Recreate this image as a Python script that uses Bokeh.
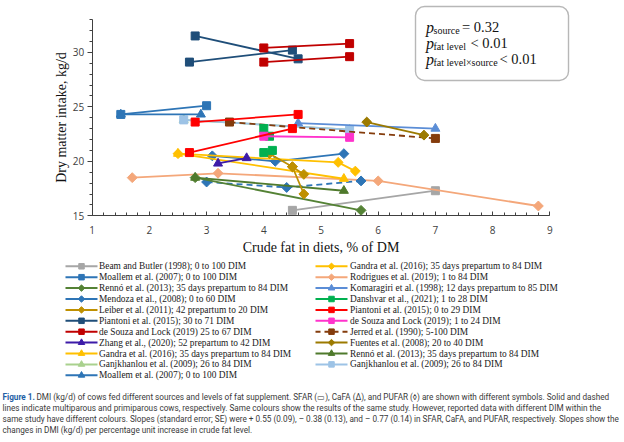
import math
from bokeh.plotting import figure
from bokeh.models import Range1d, SingleIntervalTicker, BoxAnnotation
from bokeh.core.properties import value
from bokeh.embed import file_html
from bokeh.resources import INLINE

# ---------------- data: crude fat (% of DM) vs DMI (kg/d) ----------------
beam_x = [4.5, 7.0];                 beam_y = [15.5, 17.3]
moallem_sq_x = [1.5, 3.0];           moallem_sq_y = [24.3, 25.1]
moallem_tri_x = [1.5, 2.9];          moallem_tri_y = [24.3, 24.3]
renno_dia_x = [2.8, 5.7];            renno_dia_y = [18.5, 15.5]
renno_tri_x = [2.8, 5.4];            renno_tri_y = [18.5, 17.3]
mendoza_x = [3.1, 4.2, 5.4];         mendoza_y = [20.5, 20.0, 20.7]
mendoza_prim_x = [3.0, 4.4, 5.7];    mendoza_prim_y = [18.1, 17.6, 18.2]
leiber_a_x = [4.1, 4.5, 4.7];        leiber_a_y = [20.7, 19.5, 18.8]
leiber_b_x = [4.5, 4.7];             leiber_b_y = [19.5, 17.0]
piantoni71_a_x = [2.8, 4.6];         piantoni71_a_y = [31.5, 29.4]
piantoni71_b_x = [2.7, 4.5];         piantoni71_b_y = [29.1, 30.2]
desouza67_a_x = [4.0, 5.5];          desouza67_a_y = [30.4, 30.8]
desouza67_b_x = [4.0, 5.5];          desouza67_b_y = [29.1, 29.6]
zhang_x = [3.2, 3.7];                zhang_y = [19.8, 20.3]
gandra_tri_x = [2.5, 5.4];           gandra_tri_y = [20.7, 18.4]
gandra_dia_x = [2.5, 5.3, 5.6];      gandra_dia_y = [20.7, 19.9, 19.1]
ganj_tri_x = [2.6, 5.5];             ganj_tri_y = [23.8, 22.9]
ganj_sq_x = [2.6, 5.5];              ganj_sq_y = [23.8, 22.9]
rodrigues_x = [1.7, 3.2, 6.0, 8.8];  rodrigues_y = [18.5, 18.9, 18.2, 15.9]
komaragiri_x = [4.6, 7.0];           komaragiri_y = [23.5, 23.0]
danshvar_a_x = [4.0, 4.1];           danshvar_a_y = [23.0, 22.3]
danshvar_b_x = [4.0, 4.15];          danshvar_b_y = [20.8, 21.0]
piantoni29_a_x = [2.8, 4.6];         piantoni29_a_y = [23.6, 24.3]
piantoni29_b_x = [2.7, 4.5];         piantoni29_b_y = [20.8, 23.0]
desouza24_x = [4.0, 5.5];            desouza24_y = [22.3, 22.2]
jerred_x = [3.4, 7.0];               jerred_y = [23.6, 22.1]
fuentes_x = [5.8, 6.8];              fuentes_y = [23.6, 22.4]

x_axis_title = "Crude fat in diets, % of DM"
y_axis_title = "Dry matter intake, kg/d"

# ---------------- colours ----------------
C = dict(
    beam="#A6A6A6", moallem="#2E75B6", renno_dia="#548235", renno_tri="#4F7A2C",
    mendoza="#2E75B6", leiber="#BF9000", piantoni71="#1F4E79", desouza67="#C00000",
    zhang="#3D1BA8", gandra="#FFC000", ganj_tri="#A9D18E", rodrigues="#F4A77A",
    komaragiri="#5B8DD6", danshvar="#00B050", piantoni29="#FF0000", desouza24="#FF33CC",
    jerred="#843C0C", fuentes="#9C7A00", ganj_sq="#9DC3E6",
)

series = [
    (beam_x, beam_y, "beam", "square", "solid"),
    (rodrigues_x, rodrigues_y, "rodrigues", "diamond", "solid"),
    (ganj_tri_x, ganj_tri_y, "ganj_tri", "triangle", "solid"),
    (ganj_sq_x, ganj_sq_y, "ganj_sq", "square", "solid"),
    (komaragiri_x, komaragiri_y, "komaragiri", "triangle", "solid"),
    (jerred_x, jerred_y, "jerred", "square", "dashed"),
    (fuentes_x, fuentes_y, "fuentes", "diamond", "solid"),
    (mendoza_x, mendoza_y, "mendoza", "diamond", "solid"),
    (mendoza_prim_x, mendoza_prim_y, "mendoza", "diamond", "dashed"),
    (renno_dia_x, renno_dia_y, "renno_dia", "diamond", "solid"),
    (renno_tri_x, renno_tri_y, "renno_tri", "triangle", "solid"),
    (gandra_dia_x, gandra_dia_y, "gandra", "diamond", "solid"),
    (gandra_tri_x, gandra_tri_y, "gandra", "triangle", "solid"),
    (leiber_a_x, leiber_a_y, "leiber", "diamond", "solid"),
    (leiber_b_x, leiber_b_y, "leiber", "diamond", "solid"),
    (zhang_x, zhang_y, "zhang", "triangle", "solid"),
    (danshvar_a_x, danshvar_a_y, "danshvar", "square", "solid"),
    (danshvar_b_x, danshvar_b_y, "danshvar", "square", "solid"),
    (desouza24_x, desouza24_y, "desouza24", "square", "solid"),
    (piantoni29_a_x, piantoni29_a_y, "piantoni29", "square", "solid"),
    (piantoni29_b_x, piantoni29_b_y, "piantoni29", "square", "solid"),
    (moallem_tri_x, moallem_tri_y, "moallem", "triangle", "solid"),
    (moallem_sq_x, moallem_sq_y, "moallem", "square", "solid"),
    (piantoni71_a_x, piantoni71_a_y, "piantoni71", "square", "solid"),
    (piantoni71_b_x, piantoni71_b_y, "piantoni71", "square", "solid"),
    (desouza67_a_x, desouza67_a_y, "desouza67", "square", "solid"),
    (desouza67_b_x, desouza67_b_y, "desouza67", "square", "solid"),
]

legend_left = [
    ("Beam and Butler (1998); 0 to 100 DIM", "beam", "square", "solid"),
    ("Moallem et al. (2007); 0 to 100 DIM", "moallem", "square", "solid"),
    ("Rennó et al. (2013); 35 days prepartum to 84 DIM", "renno_dia", "diamond", "solid"),
    ("Mendoza et al., (2008); 0 to 60 DIM", "mendoza", "diamond", "solid"),
    ("Leiber et al. (2011); 42 prepartum to 20 DIM", "leiber", "diamond", "solid"),
    ("Piantoni et al. (2015); 30 to 71 DIM", "piantoni71", "square", "solid"),
    ("de Souza and Lock (2019) 25 to 67 DIM", "desouza67", "square", "solid"),
    ("Zhang et al., (2020); 52 prepartum to 42 DIM", "zhang", "triangle", "solid"),
    ("Gandra et al. (2016); 35 days prepartum to 84 DIM", "gandra", "triangle", "solid"),
    ("Ganjkhanlou et al. (2009); 26 to 84 DIM", "ganj_tri", "triangle", "solid"),
    ("Moallem et al. (2007); 0 to 100 DIM", "moallem", "triangle", "solid"),
]
legend_right = [
    ("Gandra et al. (2016); 35 days prepartum to 84 DIM", "gandra", "diamond", "solid"),
    ("Rodrigues et al. (2019); 1 to 84 DIM", "rodrigues", "diamond", "solid"),
    ("Komaragiri et al. (1998); 12 days prepartum to 85 DIM", "komaragiri", "triangle", "solid"),
    ("Danshvar et al., (2021); 1 to 28 DIM", "danshvar", "square", "solid"),
    ("Piantoni et al. (2015); 0 to 29 DIM", "piantoni29", "square", "solid"),
    ("de Souza and Lock (2019); 1 to 24 DIM", "desouza24", "square", "solid"),
    ("Jerred et al. (1990); 5-100 DIM", "jerred", "square", "dashed"),
    ("Fuentes et al. (2008); 20 to 40 DIM", "fuentes", "diamond", "solid"),
    ("Rennó et al. (2013); 35 days prepartum to 84 DIM", "renno_tri", "triangle", "solid"),
    ("Ganjkhanlou et al. (2009); 26 to 84 DIM", "ganj_sq", "square", "solid"),
]

caption_lines = [
    "DMI (kg/d) of cows fed different sources and levels of fat supplement. SFAR (\u25AD), CaFA (\u0394), and PUFAR (\u25CA) are shown with different symbols. Solid and dashed",
    "lines indicate multiparous and primiparous cows, respectively. Same colours show the results of the same study. However, reported data with different DIM within the",
    "same study have different colours. Slopes (standard error; SE) were + 0.55 (0.09), \u2013 0.38 (0.13), and \u2013 0.77 (0.14) in SFAR, CaFA, and PUFAR, respectively. Slopes show the",
    "changes in DMI (kg/d) per percentage unit increase in crude fat level.",
]

# ---------------- layout constants (pixels in the 624x442 canvas) ----------------
W, H = 624, 442
X0_PX, PX_PER_X = 91.7, 57.2     # pixel of x = 1, pixels per unit
Y0_PX, PX_PER_Y = 215.3, 10.9    # pixel of y = 15, pixels per unit

SERIF = "Liberation Serif"
SANS = "Open Sans"

p = figure(width=W, height=H,
           x_range=Range1d(1 - X0_PX / PX_PER_X, 1 + (W - X0_PX) / PX_PER_X),
           y_range=Range1d(15 - (H - Y0_PX) / PX_PER_Y, 15 + Y0_PX / PX_PER_Y),
           output_backend="svg", toolbar_location=None, title=None, min_border=0)
p.extra_x_ranges["px"] = Range1d(0, W)
p.extra_y_ranges["px"] = Range1d(H, 0)
p.grid.visible = False
p.outline_line_color = None

# axes drawn at fixed data positions inside the full-canvas frame
p.xaxis.fixed_location = 15
p.yaxis.fixed_location = 1
p.xaxis.bounds = (1, 9)
p.yaxis.bounds = (15, 33)
p.xaxis.ticker = SingleIntervalTicker(interval=1, num_minor_ticks=5)
p.yaxis.ticker = SingleIntervalTicker(interval=5, num_minor_ticks=5)
for ax in (p.xaxis[0], p.yaxis[0]):
    ax.axis_line_color = "#404040"
    ax.major_tick_line_color = "#404040"
    ax.minor_tick_line_color = "#404040"
    ax.major_label_text_font = SANS
    ax.major_label_text_font_size = "10px"
    ax.major_label_text_color = "#404040"
    ax.axis_label_text_font = SERIF
    ax.axis_label_text_font_style = "normal"
    ax.axis_label_text_font_size = "14px"
    ax.axis_label_text_color = "#111111"
p.xaxis.major_tick_in = 4
p.xaxis.major_tick_out = 0
p.xaxis.minor_tick_in = 3
p.xaxis.minor_tick_out = 0
p.xaxis.major_label_standoff = 10
p.xaxis.axis_label = x_axis_title
p.xaxis.axis_label_standoff = 3
p.yaxis.major_tick_in = 0
p.yaxis.major_tick_out = 5
p.yaxis.minor_tick_in = 0
p.yaxis.minor_tick_out = 3
p.yaxis.major_label_standoff = 3
p.yaxis.axis_label = y_axis_title
p.yaxis.axis_label_standoff = 1

MSIZE = {"square": 8, "triangle": 9, "diamond": 7}
MANGLE = {"square": 0, "triangle": 0, "diamond": math.pi / 4}
MSHAPE = {"square": "square", "triangle": "triangle", "diamond": "square"}

for xs, ys, key, mk, dash in series:
    p.line(xs, ys, line_color=C[key], line_width=1.8,
           line_dash="6 4" if dash == "dashed" else "solid")
    p.scatter(xs, ys, marker=MSHAPE[mk], size=MSIZE[mk], angle=MANGLE[mk],
              fill_color=C[key], line_color=C[key], line_width=1)

# ---------------- statistics box ----------------
def dx(px): return 1 + (px - X0_PX) / PX_PER_X
def dy(py): return 15 + (Y0_PX - py) / PX_PER_Y

box = BoxAnnotation(left=dx(415), right=dx(568), top=dy(6), bottom=dy(80),
                    fill_color="white", fill_alpha=1.0, line_color="#111111",
                    line_width=1.4, border_radius=9, level="underlay")
p.add_layout(box)

def ptext(px, py, txt, size, style="normal", font=SERIF, color="#111111", baseline="alphabetic"):
    p.text(x=[px], y=[py], text=[txt], x_range_name="px", y_range_name="px",
           text_font=value(font), text_font_size=size, text_font_style=style,
           text_color=color, text_baseline=baseline, text_align="left")

rows = [(26.7, "source", "= 0.32", 461.5), (42.7, "fat level", "< 0.01", 470.0),
        (58.5, "fat level\u00d7source", "< 0.01", 499.0)]
for base, sub, rest, xr in rows:
    ptext(425.5, base, "p", "16px", "italic")
    ptext(433.0, base + 3.0, sub, "10px")
    ptext(xr, base, rest, "14.5px")

# ---------------- legend (two columns) ----------------
LMS = {"square": 5.5, "triangle": 6.5, "diamond": 4.6}
ROW0, ROWH = 265.8, 10.9
def legend_col(entries, x0, x1, xt):
    for i, (txt, key, mk, dash) in enumerate(entries):
        y = ROW0 + i * ROWH
        p.line([x0, x1], [y, y], line_color=C[key], line_width=2,
               line_dash="5 4" if dash == "dashed" else "solid",
               x_range_name="px", y_range_name="px")
        p.scatter([(x0 + x1) / 2], [y], marker=MSHAPE[mk], size=LMS[mk], angle=MANGLE[mk],
                  fill_color=C[key], line_color=C[key], x_range_name="px", y_range_name="px")
    p.text(x=[xt] * len(entries), y=[ROW0 + i * ROWH for i in range(len(entries))],
           text=[e[0] for e in entries], text_font=value(SERIF), text_font_size="9.4px",
           text_color="#1a1a1a", text_baseline="middle", text_align="left",
           x_range_name="px", y_range_name="px")

legend_col(legend_left, 65, 97, 98.5)
legend_col(legend_right, 315, 347, 349.5)

# ---------------- caption ----------------
CAP_Y = [396.7, 407.7, 418.7, 429.7]
CAP_SIZE = "8.2px"
ptext(2, CAP_Y[0], "Figure 1.", CAP_SIZE, "bold", "Roboto", "#1F5FA5", "middle")
for i, line in enumerate(caption_lines):
    ptext(36 if i == 0 else 2, CAP_Y[i], line, CAP_SIZE, "normal", "Roboto", "#3a3a3a", "middle")

open("out.html", "w").write(file_html(p, INLINE))
